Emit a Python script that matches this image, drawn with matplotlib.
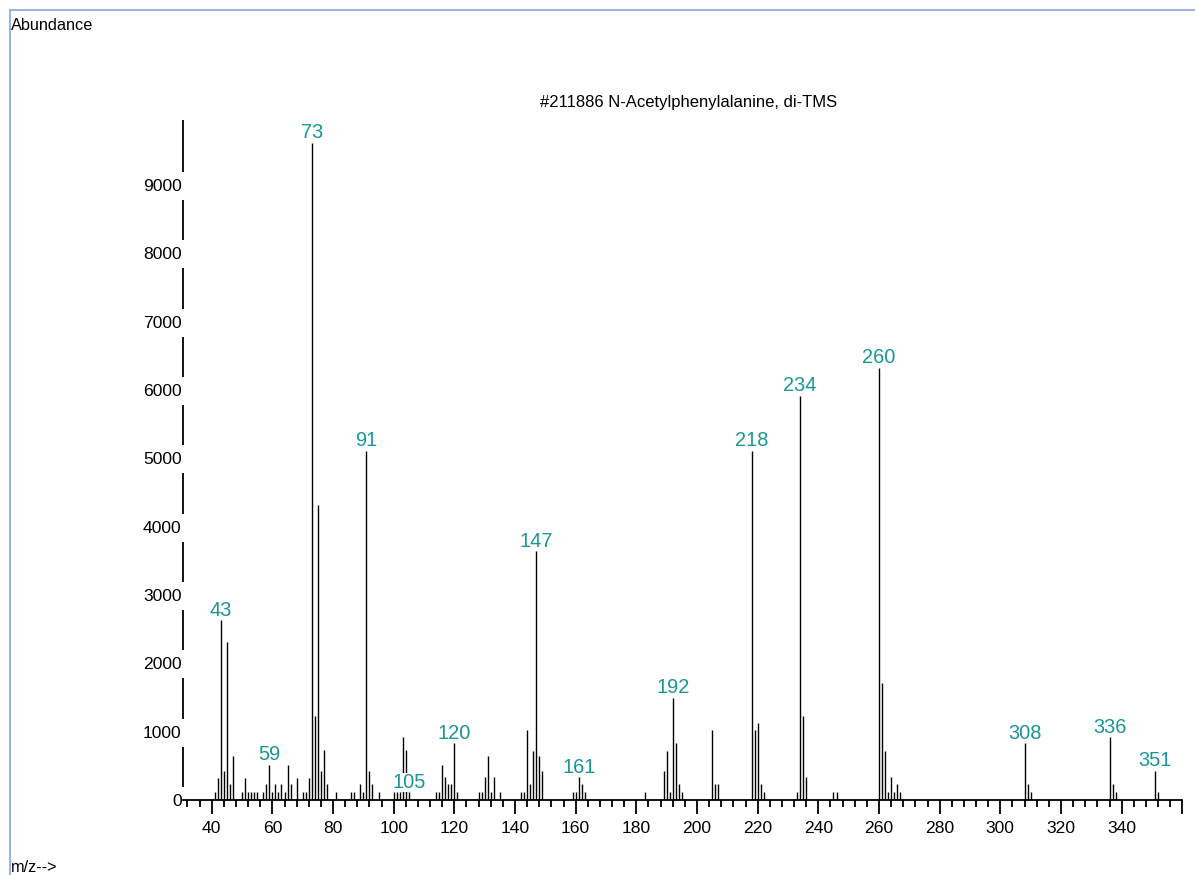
import matplotlib
matplotlib.use("Agg")
import matplotlib.pyplot as plt
from matplotlib import font_manager
from matplotlib.lines import Line2D
from matplotlib.ticker import MultipleLocator
import matplotlib.transforms as mtransforms

# ---- data ----
mz = [41, 42, 43, 44, 45, 46, 47,
      50, 51, 52, 53, 54, 55,
      57, 58, 59, 60, 61, 62, 63, 64, 65, 66, 68,
      70, 71, 72, 73, 74, 75, 76, 77, 78,
      81, 86, 87, 89, 90, 91, 92, 93, 95,
      100, 101, 102, 103, 104, 105,
      114, 115, 116, 117, 118, 119, 120, 121,
      128, 129, 130, 131, 132, 133, 135,
      142, 143, 144, 145, 146, 147, 148, 149,
      159, 160, 161, 162, 163,
      183, 189, 190, 191, 192, 193, 194, 195,
      205, 206, 207,
      218, 219, 220, 221, 222,
      233, 234, 235, 236,
      245, 246,
      260, 261, 262, 263, 264, 265, 266, 267,
      308, 309, 310,
      336, 337, 338,
      351, 352]
abundance = [110, 320, 2630, 430, 2310, 240, 650,
             110, 320, 110, 110, 110, 110,
             110, 240, 510, 110, 240, 110, 240, 110, 510, 240, 320,
             110, 110, 320, 9620, 1230, 4320, 430, 730, 240,
             110, 110, 110, 240, 110, 5110, 430, 240, 110,
             110, 110, 110, 920, 730, 110,
             110, 110, 510, 330, 240, 240, 830, 110,
             110, 110, 330, 650, 110, 330, 110,
             110, 110, 1030, 240, 720, 3640, 640, 430,
             110, 110, 330, 240, 110,
             110, 430, 720, 110, 1500, 830, 240, 110,
             1020, 240, 240,
             5110, 1030, 1130, 240, 110,
             110, 5910, 1230, 330,
             110, 110,
             6320, 1710, 720, 110, 330, 110, 240, 110,
             830, 240, 110,
             915, 240, 110,
             430, 110]
labeled = [43, 59, 73, 91, 105, 120, 147, 161, 192, 218, 234, 260, 308, 336, 351]
y_ticks = [0, 1000, 2000, 3000, 4000, 5000, 6000, 7000, 8000, 9000]
x_ticks = [40, 60, 80, 100, 120, 140, 160, 180, 200, 220, 240, 260, 280, 300, 320, 340, 360]
x_labels = ["40", "60", "80", "100", "120", "140", "160", "180", "200", "220",
            "240", "260", "280", "300", "320", "340", ""]
title = "#211886 N-Acetylphenylalanine, di-TMS"

# ---- font ----
def pick_font(names):
    for n in names:
        try:
            font_manager.findfont(n, fallback_to_default=False)
            return n
        except Exception:
            continue
    return "DejaVu Sans"

narrow = pick_font(["Liberation Sans Narrow"])
if narrow == "DejaVu Sans":
    family = pick_font(["Liberation Sans", "Arial"])
    scale = 0.9
else:
    family = narrow
    scale = 1.0
plt.rcParams['font.family'] = [family, 'DejaVu Sans']

W, H = 1195, 875
fig = plt.figure(figsize=(W / 100, H / 100), dpi=100)
left_px, right_px = 182.9, 1182.3
bottom_px, top_px = 800.0, 116.7
ax = fig.add_axes([left_px / W, (H - bottom_px) / H,
                   (right_px - left_px) / W, (bottom_px - top_px) / H])
ax.set_xlim(30.5, 360)
ax.set_ylim(0, 10000)

ax.vlines(mz, 0, abundance, colors='black', linewidth=1.0, zorder=2)

teal = '#1b9696'
for m, a in zip(mz, abundance):
    if m in labeled:
        ax.annotate(str(m), xy=(m, a), xytext=(0, 0.5), textcoords='offset points',
                    ha='center', va='bottom', fontsize=16 * scale, color=teal,
                    zorder=5,
                    bbox=dict(facecolor='white', edgecolor='none', pad=0.2))

# spines
for s in ['top', 'right', 'left']:
    ax.spines[s].set_visible(False)
ax.spines['bottom'].set_linewidth(1.3)

# dashed-looking y axis: segments between tick labels
trans = mtransforms.blended_transform_factory(ax.transAxes, ax.transData)
for v in y_ticks:
    hi = v + 780 if v < 9000 else v + 950
    ax.plot([0, 0], [v + 190, hi], color='black', lw=1.3, transform=trans,
            clip_on=False, solid_capstyle='butt')

ax.set_yticks(y_ticks)
ax.set_yticklabels([str(v) for v in y_ticks])
ax.tick_params(axis='y', length=0, pad=1, labelsize=14 * scale)

ax.set_xticks(x_ticks)
ax.set_xticklabels(x_labels)
ax.xaxis.set_minor_locator(MultipleLocator(4))
ax.tick_params(axis='x', which='major', direction='out', length=10, width=1.3,
               pad=5, labelsize=14 * scale)
ax.tick_params(axis='x', which='minor', direction='out', length=5, width=1.3)

# frame lines (light blue)
frame_col = '#8aa6d6'
fig.add_artist(Line2D([10 / W, 10 / W], [1 - 10 / H, 0], color=frame_col, lw=1.2,
                      transform=fig.transFigure))
fig.add_artist(Line2D([10 / W, 1], [1 - 10 / H, 1 - 10 / H], color=frame_col, lw=1.2,
                      transform=fig.transFigure))

fig.text(11 / W, 1 - 25 / H, "Abundance", ha='left', va='center', fontsize=13 * scale)
fig.text(11 / W, 1 - 867 / H, "m/z-->", ha='left', va='center', fontsize=13 * scale)
fig.text(689 / W, 1 - 103 / H, title, ha='center', va='center', fontsize=12)

fig.savefig("out.png", dpi=100, facecolor='white')
